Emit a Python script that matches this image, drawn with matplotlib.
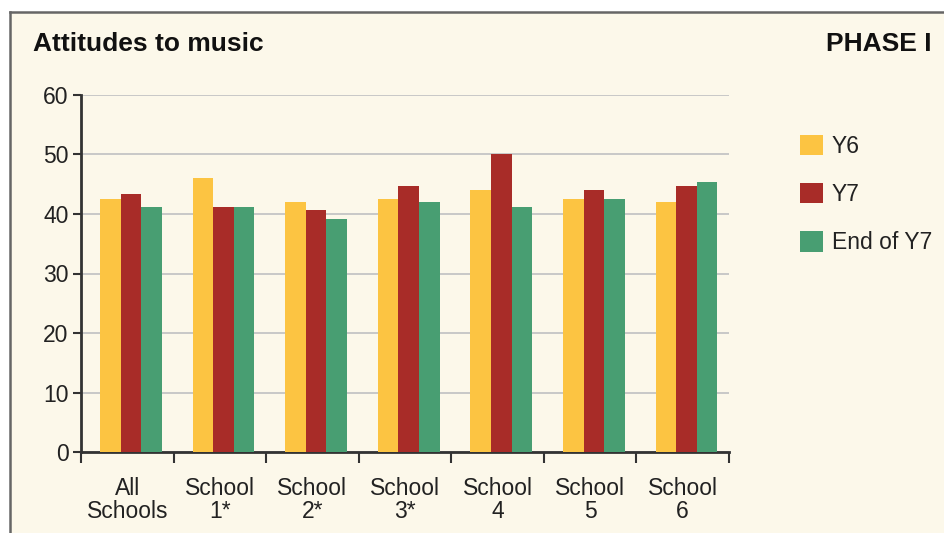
import matplotlib.pyplot as plt
import numpy as np
from matplotlib.patches import Rectangle
from matplotlib.lines import Line2D

plt.rcParams['font.family'] = ['Liberation Sans', 'DejaVu Sans']

categories = ["All\nSchools", "School\n1*", "School\n2*", "School\n3*", "School\n4", "School\n5", "School\n6"]
series_names = ["Y6", "Y7", "End of Y7"]
y6 = [42.5, 46.1, 42.0, 42.5, 44.1, 42.5, 42.0]
y7 = [43.4, 41.2, 40.7, 44.7, 50.0, 44.1, 44.7]
end_y7 = [41.2, 41.2, 39.2, 42.0, 41.2, 42.5, 45.4]
yticks = [0, 10, 20, 30, 40, 50, 60]

colors = ["#FCC442", "#A82C28", "#489E72"]
bg = "#FCF8EA"
txt = "#222222"
fs = 16.5

fig = plt.figure(figsize=(9.44, 5.33), dpi=100)
fig.patch.set_facecolor("white")

# cream panel with border on top and left
fig.patches.append(Rectangle((10/944, 0), 1, (533-12)/533, transform=fig.transFigure,
                             facecolor=bg, edgecolor="none", zorder=-10))
fig.lines.append(Line2D([10/944, 1], [(533-12)/533]*2, transform=fig.transFigure,
                        color="#666666", lw=1.8, zorder=-5))
fig.lines.append(Line2D([10/944]*2, [0, (533-12)/533], transform=fig.transFigure,
                        color="#666666", lw=1.8, zorder=-5))

ax = fig.add_axes([81/944, 81/533, (729-81)/944, (452-95)/533])
ax.set_facecolor(bg)

x = np.arange(len(categories))
w = 0.222
off = 0.04
for i, (vals, name) in enumerate(zip([y6, y7, end_y7], series_names)):
    ax.bar(x + off + (i - 1) * w, vals, width=w, color=colors[i], label=name, zorder=3)

ax.set_xlim(-0.5, len(categories) - 0.5)
ax.set_ylim(0, 60)
ax.set_yticks(yticks)
ax.yaxis.grid(True, color="#c8c8c8", lw=1.4, zorder=0)
ax.set_axisbelow(True)

# boundary ticks on x, labels at centres
ax.set_xticks(np.arange(-0.5, len(categories), 1.0))
ax.set_xticklabels([])
ax.set_xticks(x, minor=True)
ax.set_xticklabels(categories, minor=True, fontsize=fs, color=txt, linespacing=1.02)
ax.tick_params(axis="x", which="major", length=8, width=1.5, color="#333333", direction="out")
ax.tick_params(axis="x", which="minor", length=0, pad=18)
ax.tick_params(axis="y", length=6, width=1.5, color="#333333", labelsize=fs, labelcolor=txt, pad=3)

for s in ["top", "right"]:
    ax.spines[s].set_visible(False)
for s in ["left", "bottom"]:
    ax.spines[s].set_color("#333333")
    ax.spines[s].set_linewidth(2)

fig.text(33/944, 1 - 44/533, "Attitudes to music", fontsize=19, fontweight="bold",
         color="#111111", va="center", ha="left")
fig.text(932/944, 1 - 44/533, "PHASE I", fontsize=19, fontweight="bold",
         color="#111111", va="center", ha="right")

fig.legend(loc="upper left", bbox_to_anchor=(779/944, 1 - 114/533), frameon=False,
           fontsize=fs, handlelength=1.0, handleheight=1.0, labelspacing=1.1,
           handletextpad=0.4, labelcolor=txt)

fig.savefig("out.png", dpi=100, facecolor=fig.get_facecolor())
